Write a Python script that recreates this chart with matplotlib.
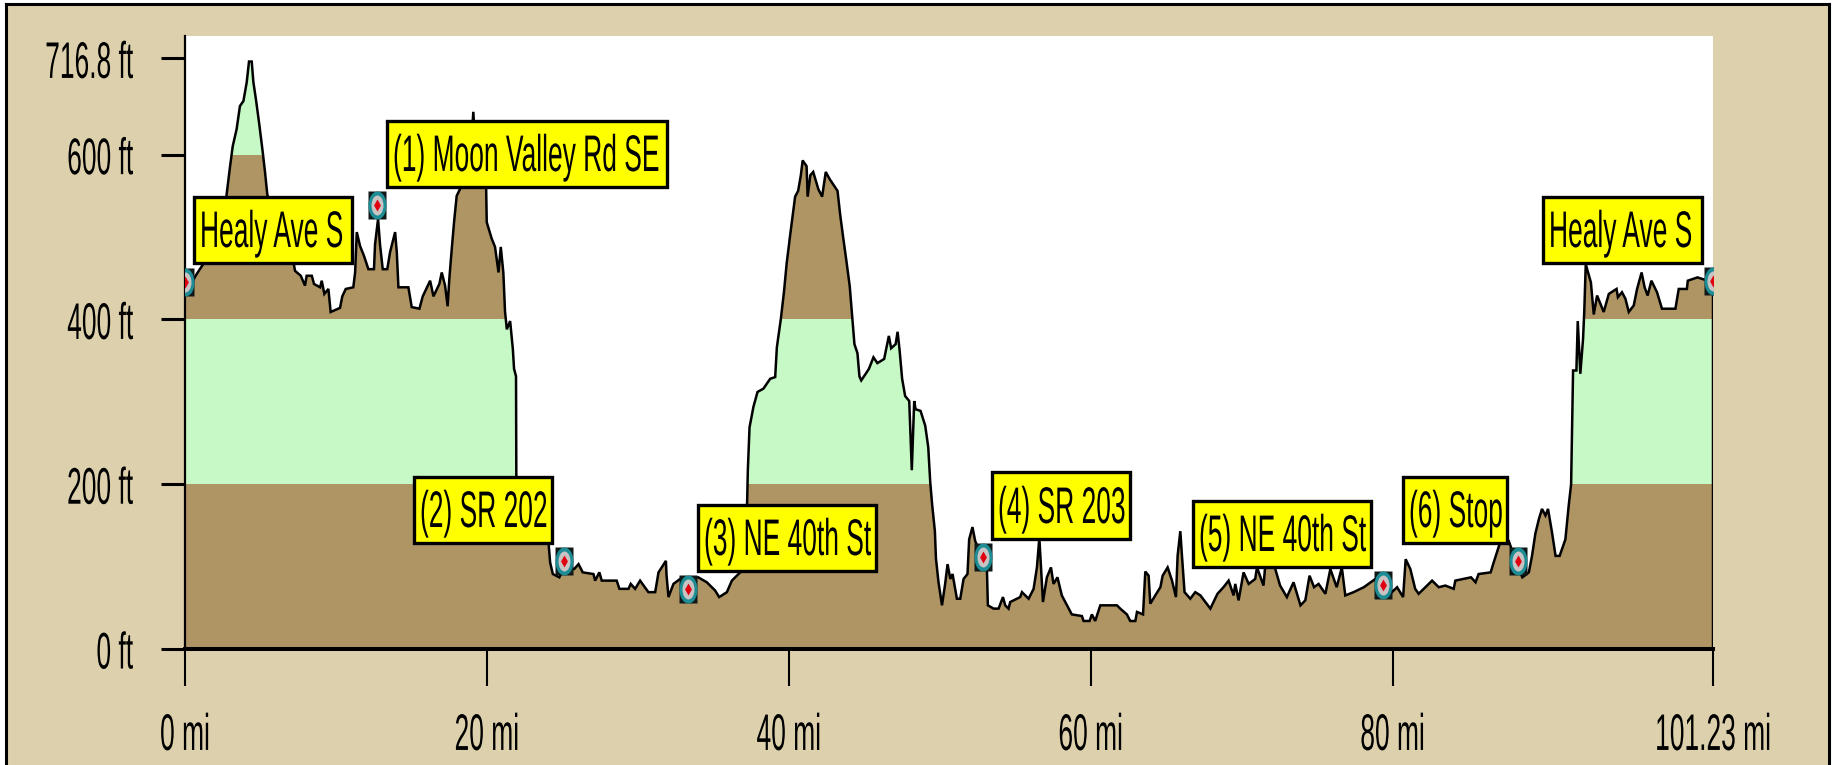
import matplotlib
matplotlib.use("Agg")
import matplotlib.pyplot as plt
from matplotlib.patches import Rectangle
from matplotlib.path import Path
from matplotlib.patheffects import AbstractPathEffect
from matplotlib.transforms import Affine2D

# ---------- data ----------
profile_mi = [0, 0.77, 1.2, 2, 2.5, 2.76, 2.98, 3.16, 3.42, 3.64, 3.87, 4.09, 4.24, 4.42, 4.53, 4.7, 4.92, 5.15, 5.3,
              5.45, 6, 7.18, 7.29, 7.67, 7.95, 8.06, 8.4, 8.55, 8.95, 9.06, 9.23, 9.5, 9.65, 10.27, 10.42, 10.65, 11.15,
              11.27, 11.38, 11.6, 11.86, 12.15, 12.52, 12.59, 12.79, 12.92, 13.1, 13.4, 13.59, 13.92, 14.03, 14.14, 14.8,
              15.02, 15.53, 15.75, 16.24, 16.46, 16.85, 17.01, 17.23, 17.4, 17.51, 17.67, 17.83, 18.0, 18.4, 18.9, 19.1,
              19.3, 19.8, 19.95, 19.99, 20.32, 20.54, 20.77, 20.92, 21.09, 21.2, 21.32, 21.54, 21.72, 21.8, 21.93, 21.95,
              23, 24.08, 24.19, 24.37, 24.8, 25.14, 25.78, 26.07, 26.35, 27.06, 27.17, 27.45, 27.61, 28.6, 28.78, 29.38,
              29.53, 29.82, 30.15, 30.7, 31.15, 31.37, 31.86, 31.9, 32.03, 32.36, 32.8, 34, 34.57, 35.12, 35.39, 35.9,
              36.23, 36.89, 37.24, 37.29, 37.4, 37.66, 37.93, 38.32, 38.77, 39.1, 39.21, 39.47, 39.68, 39.86, 40.11, 40.42,
              40.62, 40.8, 40.92, 41.18, 41.25, 41.43, 41.62, 41.96, 42.21, 42.45, 42.72, 43.23, 43.4, 43.6, 43.84, 44.04,
              44.2, 44.35, 44.55, 44.68, 44.8, 45.06, 45.31, 45.61, 45.87, 46.32, 46.63, 46.78, 47.08, 47.21, 47.34, 47.51,
              47.71, 47.98, 48.15, 48.31, 48.4, 48.73, 49.04, 49.24, 49.37, 49.5, 49.68, 49.75, 49.92, 50.15, 50.36, 50.52,
              50.7, 50.85, 51.14, 51.36, 51.58, 51.84, 51.95, 52.17, 52.35, 52.84, 53.13, 53.19, 53.57, 53.9, 54.19, 54.34,
              54.56, 54.67, 55.33, 55.45, 55.89, 56.22, 56.44, 56.6, 56.71, 56.84, 57.1, 57.37, 57.54, 57.8, 58.09, 58.75,
              59.42, 59.53, 59.93, 60.08, 60.3, 60.64, 61.74, 61.96, 62.4, 62.62, 62.96, 63.07, 63.47, 63.62, 63.84, 63.95,
              64.28, 64.62, 64.77, 65.1, 65.39, 65.65, 65.76, 65.94, 66.05, 66.22, 66.6, 66.93, 67.27, 67.93, 68.4, 68.8,
              69.14, 69.47, 69.58, 69.8, 70.13, 70.47, 70.9, 71.02, 71.45, 71.57, 72.2, 72.55, 73, 73.44, 73.9, 74.22,
              74.5, 74.8, 75.1, 75.55, 75.88, 76.3, 76.64, 76.87, 77.42, 78.1, 78.86, 79.4, 79.96, 80.3, 80.7, 80.87,
              81.18, 81.5, 81.73, 82.17, 82.62, 83.06, 83.5, 84.05, 84.16, 85.2, 85.5, 85.7, 86.5, 86.7, 87.05, 87.15,
              87.7, 88.3, 88.6, 89.03, 89.24, 89.46, 89.7, 89.9, 90.13, 90.3, 90.56, 90.8, 91.07, 91.45, 91.67, 91.83,
              91.96, 92.18, 92.27, 92.44, 92.62, 92.7, 92.8, 93.14, 93.33, 93.55, 93.99, 94.33, 94.84, 94.93, 95.2, 95.43,
              95.65, 95.98, 96.2, 96.5, 96.7, 96.9, 97.15, 97.52, 97.85, 98.74, 98.96, 99.5, 99.56, 100.2, 101.23]
profile_ft = [430, 455, 467, 485, 515, 552, 585, 610, 631, 659, 665, 688, 713, 713, 688, 667, 637, 603, 579,
              552, 510, 470, 459, 453, 441, 453, 453, 443, 439, 447, 431, 437, 409, 414, 428, 437, 439,
              457, 506, 489, 477, 461, 461, 491, 522, 491, 461, 461, 482, 506, 482, 439, 439,
              415, 413, 428, 447, 428, 443, 457, 441, 416, 449, 485, 519, 550, 565, 590, 652,
              590, 575, 561, 518, 498, 488, 457, 488, 457, 410, 388, 398, 364, 340, 331, 210,
              165, 130, 105, 91, 87, 100, 97, 103, 93, 91, 83, 93, 83, 83, 73, 73,
              79, 73, 83, 69, 69, 93, 107, 90, 63, 79, 85, 87, 81, 71, 63, 69,
              83, 95, 178, 218, 269, 294, 312, 316, 328, 330, 366, 400, 433, 468, 505, 549,
              556, 575, 593, 586, 549, 575, 579, 558, 549, 579, 570, 556, 528, 500, 468, 440,
              403, 370, 359, 331, 326, 333, 340, 354, 347, 352, 380, 365, 370, 385, 363, 328,
              307, 301, 217, 301, 291, 289, 271, 245, 203, 175, 143, 110, 81, 53, 79, 103,
              85, 91, 61, 61, 85, 91, 133, 148, 131, 110, 95, 53, 49, 49, 63, 53,
              49, 57, 63, 69, 61, 73, 99, 135, 99, 57, 87, 99, 79, 87, 65, 42,
              40, 34, 34, 42, 34, 53, 53, 49, 42, 34, 34, 45, 42, 94, 89, 55,
              65, 75, 89, 99, 83, 63, 113, 143, 113, 69, 61, 69, 65, 49, 67, 75,
              83, 65, 79, 59, 93, 79, 85, 99, 77, 102, 99, 77, 63, 81, 53, 59,
              89, 75, 79, 67, 97, 75, 99, 65, 69, 75, 85, 90, 69, 75, 63, 109,
              97, 73, 67, 75, 83, 75, 77, 73, 83, 87, 81, 91, 93, 105, 125, 130,
              131, 100, 87, 93, 113, 140, 158, 170, 162, 170, 142, 113, 113, 133, 174, 200,
              338, 338, 398, 334, 376, 409, 467, 445, 406, 429, 409, 431, 437, 427, 433, 425,
              409, 417, 437, 457, 439, 429, 447, 433, 413, 413, 437, 437, 447, 451, 445]

station_mi = [0, 12.75, 25.14, 33.35, 52.84, 79.4, 88.3, 101.23]
station_ft = [445, 539, 107, 73, 112, 78, 107, 447]

label_texts = ["Healy Ave S", "(1) Moon Valley Rd SE", "(2) SR 202", "(3) NE 40th St",
               "(4) SR 203", "(5) NE 40th St", "(6) Stop", "Healy Ave S"]

y_ticks = [0, 200, 400, 600, 716.8]
y_tick_labels = ["0 ft", "200 ft", "400 ft", "600 ft", "716.8 ft"]
x_ticks = [0, 20, 40, 60, 80, 101.23]
x_tick_labels = ["0 mi", "20 mi", "40 mi", "60 mi", "80 mi", "101.23 mi"]

band_edges = [0, 200, 400, 600, 744]

# ---------- layout and style (pixels of the 1833x765 canvas) ----------
W, H = 1833, 765
AX_L, AX_R, AX_T, AX_B = 185, 1713, 36, 649
BOXES = [(194, 197, 352, 263), (387, 121, 667, 187), (414, 477, 552, 543), (698, 505, 876, 571),
         (992, 472, 1130, 539), (1193, 501, 1371, 567), (1403, 477, 1507, 543), (1543, 197, 1702, 263)]
TAN, BROWN, GREEN = "#DDD0AC", "#AF9564", "#C6F9C6"
band_colors = [BROWN, GREEN, BROWN, GREEN]
FONT = ["Liberation Sans Narrow", "Liberation Sans", "DejaVu Sans"]
FS, K = 19, 1.95


class StretchY(AbstractPathEffect):
    """Draw text glyphs taller: scale about a display baseline, then shift."""
    def __init__(self, base, shift=0):
        super().__init__()
        self.base, self.shift = base, shift

    def draw_path(self, renderer, gc, tpath, affine, rgbFace=None):
        a = affine + Affine2D().translate(0, -self.base).scale(1, K).translate(0, self.base + self.shift)
        renderer.draw_path(gc, tpath, a, rgbFace)


fig = plt.figure(figsize=(W / 100, H / 100), dpi=100, facecolor="white")


def fx(px):
    return px / W


def fy(py):
    return 1 - py / H


# tan panel with its black frame on the top, left and right
fig.add_artist(Rectangle((fx(6), 0), fx(1829 - 6), fy(4), transform=fig.transFigure,
                         facecolor=TAN, edgecolor="none", zorder=-5))
for xs, ys in [((6, 1829), (4, 4)), ((6, 6), (4, 765)), ((1829, 1829), (4, 765))]:
    fig.add_artist(plt.Line2D([fx(v) for v in xs], [fy(v) for v in ys], color="black", lw=2.2,
                              transform=fig.transFigure, zorder=-4))

ax = fig.add_axes([fx(AX_L), fy(AX_B), fx(AX_R - AX_L), (AX_B - AX_T) / H], facecolor="white")
ax.set_xlim(0, 101.23)
ax.set_ylim(0, band_edges[-1])

# elevation bands, visible only under the profile
shape = ax.fill_between(profile_mi, 0, profile_ft, facecolor="none", edgecolor="none")
clip = shape.get_paths()[0]
for lo, hi, c in zip(band_edges[:-1], band_edges[1:], band_colors):
    span = ax.axhspan(lo, hi, facecolor=c, edgecolor="none", zorder=1)
    span.set_clip_path(clip, shape.get_transform())

ax.plot(profile_mi + profile_mi[-1:], profile_ft + [0], color="black", lw=1.8, zorder=2,
        solid_joinstyle="miter")

# station icons
rect = Path([(-9, -14), (9, -14), (9, 14), (-9, 14), (-9, -14)])
oval = Path.unit_circle().transformed(Affine2D().scale(9, 14))
inner = Path.unit_circle().transformed(Affine2D().scale(6, 10))
red = Path([(0, -7), (4, 0), (0, 7), (-4, 0), (0, -7)])
for m, c, px in [(rect, "#101818", 28), (oval, "#1E8C94", 28), (inner, "#C8C4C4", 20), (red, "#E00010", 12)]:
    ax.plot(station_mi, station_ft, ls="none", marker=m, ms=px * 0.72, mfc=c, mec="none", zorder=3)

# yellow labels
for (x0, y0, x1, y1), s in zip(BOXES, label_texts):
    r = Rectangle((fx(x0), fy(y1)), fx(x1 - x0), (y1 - y0) / H, transform=fig.transFigure,
                  facecolor="#FFFF00", edgecolor="black", lw=2.4, zorder=5, clip_on=False)
    ax.add_patch(r)
    baseline = y1 - 16
    t = ax.text(fx(x0 + 6), fy(baseline), s, transform=fig.transFigure, family=FONT, fontsize=FS,
                color="black", ha="left", va="baseline", zorder=6, clip_on=True)
    t.set_clip_path(r)
    t.set_path_effects([StretchY(H - baseline)])

# axes
for side in ("top", "right"):
    ax.spines[side].set_visible(False)
ax.spines["left"].set_linewidth(1.6)
ax.spines["bottom"].set_linewidth(2.9)
ax.set_axisbelow(False)
ax.set_yticks(y_ticks, y_tick_labels)
ax.set_xticks(x_ticks, x_tick_labels)
ax.tick_params(axis="y", length=17.3, width=2.2, pad=20, direction="out")
ax.tick_params(axis="x", length=26.6, width=1.5, pad=46.8, direction="out")

fig.canvas.draw()
for v, lab in zip(y_ticks, ax.get_yticklabels()):
    lab.set_family(FONT)
    lab.set_fontsize(FS)
    lab.set_va("baseline")
    lab.set_path_effects([StretchY(ax.transData.transform((0, v))[1], -19.5)])
for lab in ax.get_xticklabels():
    lab.set_family(FONT)
    lab.set_fontsize(FS)
    lab.set_va("baseline")
    lab.set_path_effects([StretchY(H - 752)])

fig.savefig("out.png", dpi=100, facecolor="white")
